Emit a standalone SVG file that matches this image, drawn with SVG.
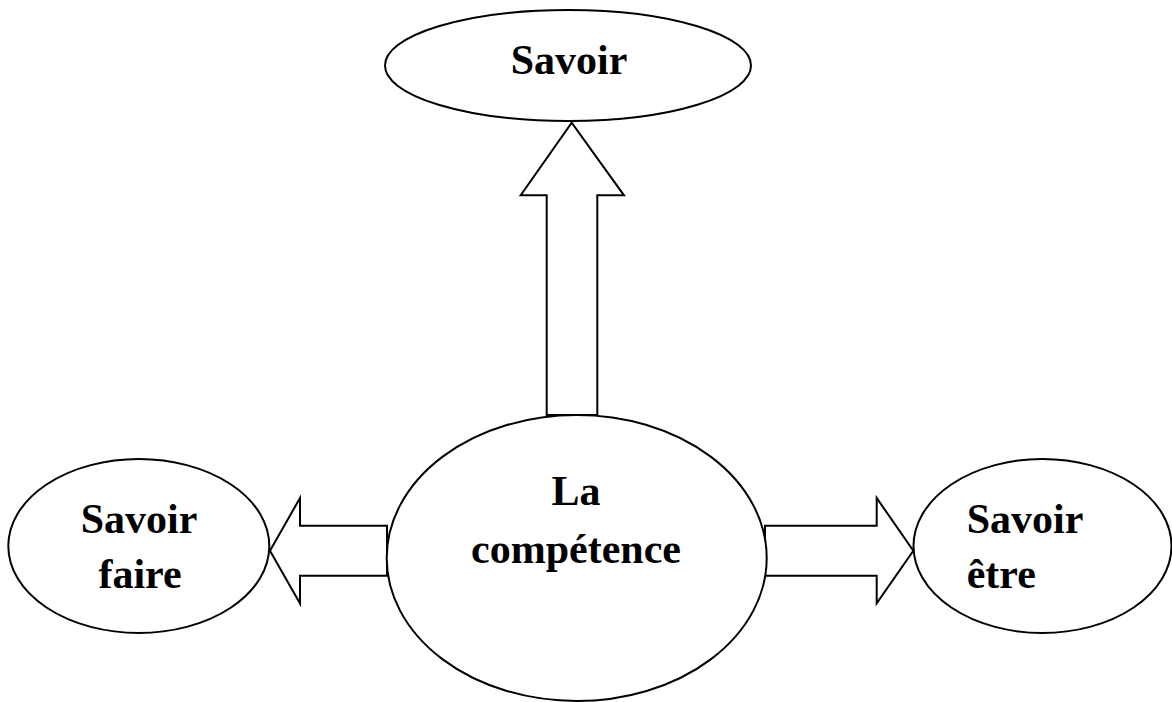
<svg xmlns="http://www.w3.org/2000/svg" width="1172" height="702" viewBox="0 0 1172 702">
<style>
.shape{fill:#fff;stroke:#000;stroke-width:2}
.lbl{font-family:"Liberation Serif","Times New Roman",serif;font-weight:bold;font-size:42px;fill:#000}
.c{text-anchor:middle}
</style>
<rect width="1172" height="702" fill="#fff"/>
<g id="connectors">
<polygon class="shape" points="546.7,415 546.7,195.3 520.7,195.3 571.7,122.7 624,195.3 597.3,195.3 597.3,415"/>
<polygon class="shape" points="387,525.7 300,525.7 300,498 270,550.7 300,603.4 300,575.7 387,575.7"/>
<polygon class="shape" points="765,525.7 876.7,525.7 876.7,498 913.3,550.7 876.7,603.4 876.7,575.7 765,575.7"/>
</g>
<g id="savoir">
<ellipse class="shape" cx="568" cy="65.5" rx="183" ry="55.5"/>
<text class="lbl c" x="569" y="74">Savoir</text>
</g>
<g id="competence">
<ellipse class="shape" cx="576.7" cy="558" rx="190" ry="143"/>
<text class="lbl c" x="576" y="505">La</text>
<text class="lbl c" x="576" y="562.7">compétence</text>
</g>
<g id="savoir-faire">
<ellipse class="shape" cx="138.8" cy="546" rx="130.5" ry="87"/>
<text class="lbl c" x="139" y="532.7">Savoir</text>
<text class="lbl c" x="140" y="588.3">faire</text>
</g>
<g id="savoir-etre">
<ellipse class="shape" cx="1042.5" cy="546" rx="129" ry="87"/>
<text class="lbl" x="966.7" y="532.7">Savoir</text>
<text class="lbl" x="966.7" y="588.3">être</text>
</g>
</svg>
